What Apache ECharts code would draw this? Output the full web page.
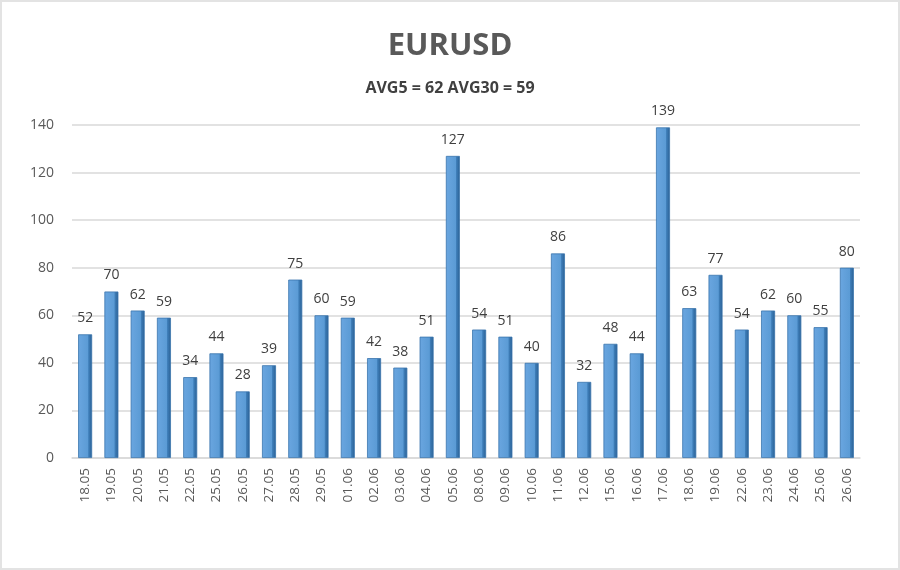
<!DOCTYPE html>
<html>
<head>
<meta charset="utf-8">
<script src="https://cdn.jsdelivr.net/npm/echarts@6/dist/echarts.min.js"></script>
<style>
  html, body { margin: 0; padding: 0; background: #fff; }
  #chart {
    width: 896px;
    height: 566px;
    border: 2px solid #e3e3e3;
  }
</style>
</head>
<body>
<div id="chart"></div>
<script>
// daily range in points
const dates = ['18.05', '19.05', '20.05', '21.05', '22.05', '25.05', '26.05', '27.05', '28.05', '29.05',
  '01.06', '02.06', '03.06', '04.06', '05.06', '08.06', '09.06', '10.06', '11.06', '12.06',
  '15.06', '16.06', '17.06', '18.06', '19.06', '22.06', '23.06', '24.06', '25.06', '26.06']
const values = [52, 70, 62, 59, 34, 44, 28, 39, 75, 60,
  59, 42, 38, 51, 127, 54, 51, 40, 86, 32,
  48, 44, 139, 63, 77, 54, 62, 60, 55, 80]
const titleText = 'EURUSD'
const subtitleText = 'AVG5 = 62 AVG30 = 59'

const chart = echarts.init(document.getElementById('chart'))

chart.setOption({
  animation: false,
  title: {
    text: titleText,
    subtext: subtitleText,
    left: 'center',
    top: 24,
    itemGap: 18,
    textStyle: {
      fontFamily: 'Open Sans',
      fontSize: 31,
      fontWeight: 'bold',
      color: '#595959'
    },
    subtextStyle: {
      fontFamily: 'Open Sans',
      fontSize: 16,
      fontWeight: 'bold',
      color: '#404040'
    }
  },
  grid: {
    left: 70,
    right: 38,
    top: 123,
    bottom: 110
  },
  xAxis: {
    type: 'category',
    data: dates,
    axisLine: { lineStyle: { color: '#d9d9d9', width: 1.5 } },
    axisTick: { show: false },
    axisLabel: {
      rotate: 90,
      color: '#595959',
      fontFamily: 'Open Sans',
      fontSize: 13.5,
      margin: 10
    }
  },
  yAxis: {
    type: 'value',
    min: 0,
    max: 140,
    interval: 20,
    axisLine: { show: false },
    axisTick: { show: false },
    splitLine: { lineStyle: { color: '#d9d9d9', width: 1.5 } },
    axisLabel: {
      color: '#595959',
      fontFamily: 'Open Sans',
      fontSize: 14,
      margin: 18
    }
  },
  series: [{
    type: 'bar',
    data: values,
    barWidth: 14,
    itemStyle: {
      color: new echarts.graphic.LinearGradient(0, 0, 1, 0, [
        { offset: 0, color: '#6aa6e0' },
        { offset: 0.7, color: '#5b9bd5' },
        { offset: 0.75, color: '#3f7fba' },
        { offset: 1, color: '#2a5f92' }
      ]),
      borderColor: '#3a75ad',
      borderWidth: 0.8
    },
    label: {
      show: true,
      position: 'top',
      distance: 9,
      color: '#404040',
      fontFamily: 'Open Sans',
      fontSize: 14
    }
  }]
})
</script>
</body>
</html>
